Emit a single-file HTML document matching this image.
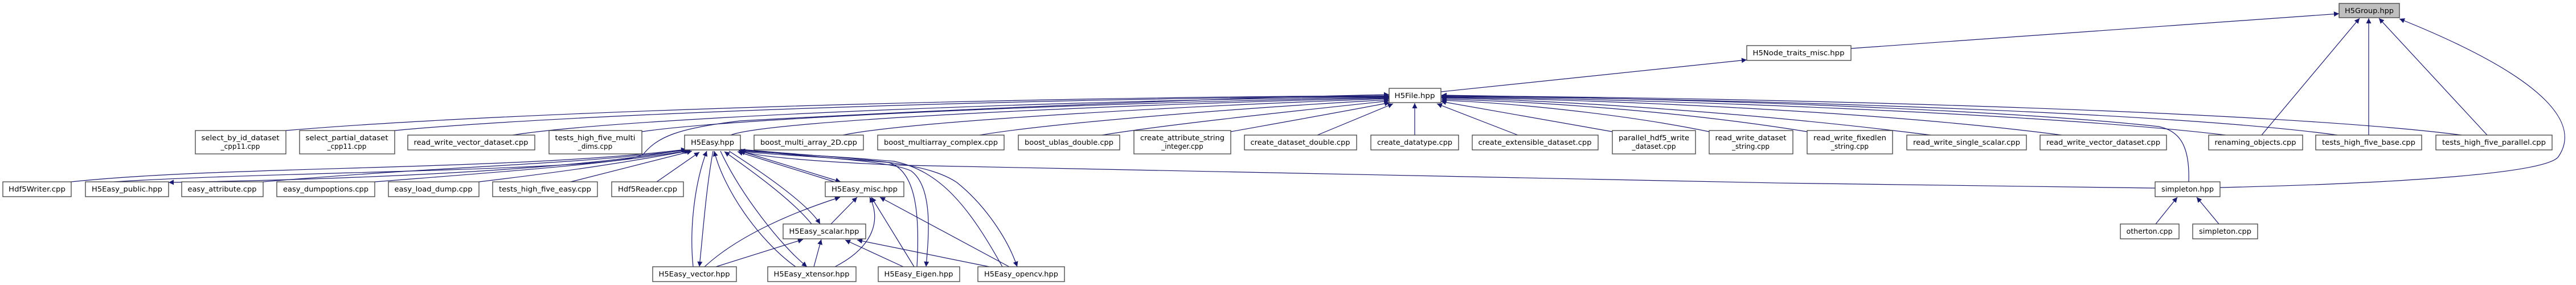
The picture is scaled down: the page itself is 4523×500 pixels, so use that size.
<!DOCTYPE html>
<html><head><meta charset="utf-8"><style>
html,body{margin:0;padding:0;background:#fff;}
svg{display:block;}
text{font-family:"DejaVu Sans","Liberation Sans",sans-serif;font-size:12px;fill:#000;}
.n{fill:#fff;stroke:#404040;stroke-width:1.3;}
.e{fill:none;stroke:#191970;stroke-width:1.2;marker-end:url(#a);}
</style></head><body>
<svg width="4523" height="500" viewBox="0 0 4523 500" xmlns="http://www.w3.org/2000/svg">
<defs><marker id="a" viewBox="0 0 10 10" refX="10" refY="5" markerWidth="11" markerHeight="9" markerUnits="userSpaceOnUse" orient="auto"><path d="M0,0L10,5L0,10z" fill="#191970"/></marker></defs>
<g>
<!-- H5File edges -->
<path class="e" d="M502,229 C900,195 1800,170 2439,168"/>
<path class="e" d="M693,229 C1000,200 1800,172 2439,169"/>
<path class="e" d="M900,237 C1100,205 1900,175 2439,170"/>
<path class="e" d="M1127,231 C1300,205 2000,178 2439,171"/>
<path class="e" d="M1283,237 C1350,210 2000,182 2439,172"/>
<path class="e" d="M1480,237 C1600,212 2100,185 2439,173"/>
<path class="e" d="M1720,237 C1850,215 2200,188 2439,175"/>
<path class="e" d="M1935,237 C2050,218 2300,192 2439,177"/>
<path class="e" d="M2161,231 C2250,215 2380,192 2440,180"/>
<path class="e" d="M2313,237 L2446,182"/>
<path class="e" d="M2484,237 L2484,181"/>
<path class="e" d="M2665,237 L2523,182"/>
<path class="e" d="M2831,231 L2530,178"/>
<path class="e" d="M3001,231 C2850,200 2650,180 2531,176"/>
<path class="e" d="M3173,231 C2950,195 2700,178 2531,174"/>
<path class="e" d="M3390,237 C3100,200 2750,176 2531,172"/>
<path class="e" d="M3620,237 C3300,195 2800,174 2531,171"/>
<path class="e" d="M3908,237 C3600,200 2900,173 2531,170"/>
<path class="e" d="M4104,237 C3800,195 3000,172 2531,169"/>
<path class="e" d="M4322,237 C4000,195 3100,171 2531,168"/>
<path class="e" d="M3843,319 C3845,260 3830,230 3790,222 C3500,190 2900,172 2531,167"/>
<path class="e" d="M200,319 C500,300 1100,300 1130,270 C1155,240 1190,225 1300,212 C1700,190 2200,170 2439,166"/>
<!-- H5Easy edges -->
<path class="e" d="M125,319 C400,290 900,300 1205,262"/>
<path class="e" d="M462,319 C800,290 1000,290 1207,263"/>
<path class="e" d="M658,319 C900,300 1050,290 1210,264"/>
<path class="e" d="M841,319 C1000,300 1100,285 1212,264"/>
<path class="e" d="M1002,319 L1215,265"/>
<path class="e" d="M1153,319 L1228,267"/>
<path class="e" d="M1205,262 C1000,300 600,315 296,320"/>
<path class="e" d="M3784,330 C3000,322 2000,300 1590,290 C1450,285 1320,275 1300,264"/>
<path class="e" d="M1297,264 L1476,319"/>
<path class="e" d="M1465,319 L1295,266"/>
<path class="e" d="M1280,265 C1350,310 1420,360 1440,393"/>
<path class="e" d="M1425,393 C1390,350 1320,300 1272,266"/>
<path class="e" d="M1217,468 C1210,400 1220,320 1241,265"/>
<path class="e" d="M1252,265 C1240,330 1235,400 1228,468"/>
<path class="e" d="M1397,468 C1330,420 1270,330 1254,265"/>
<path class="e" d="M1265,265 C1300,340 1370,430 1417,468"/>
<path class="e" d="M1610,468 C1615,380 1610,300 1560,285 C1450,275 1320,270 1297,264"/>
<path class="e" d="M1299,262 C1400,275 1560,280 1600,300 C1640,330 1630,420 1626,468"/>
<path class="e" d="M1760,468 C1700,360 1650,300 1570,283 C1450,272 1320,268 1299,263"/>
<path class="e" d="M1300,262 C1500,280 1620,280 1680,320 C1730,360 1770,420 1786,468"/>
<path class="e" d="M1459,393 L1505,346"/>
<path class="e" d="M1237,468 C1300,410 1400,370 1475,346"/>
<path class="e" d="M1257,468 L1410,420"/>
<path class="e" d="M1429,468 L1442,420"/>
<path class="e" d="M1466,468 C1540,430 1545,380 1527,346"/>
<path class="e" d="M1586,468 L1484,421"/>
<path class="e" d="M1605,468 L1530,346"/>
<path class="e" d="M1737,468 L1505,421"/>
<path class="e" d="M1772,468 L1545,346"/>
<!-- top -->
<path class="e" d="M2530,161 L3067,105"/>
<path class="e" d="M3250,85 L4107,24"/>
<path class="e" d="M3971,237 L4143,32"/>
<path class="e" d="M4159,237 L4159,32"/>
<path class="e" d="M4367,237 L4177,32"/>
<path class="e" d="M3898,329 C4200,322 4470,305 4492,275 C4530,220 4480,140 4213,33"/>
<path class="e" d="M3785,393 L3823,346"/>
<path class="e" d="M3896,393 L3857,346"/>
</g>
<g>
<rect x="4107" y="6" width="106" height="25" style="fill:#bfbfbf;stroke:#404040;stroke-width:1.3"/><text x="4160" y="23" text-anchor="middle" textLength="86" lengthAdjust="spacingAndGlyphs">H5Group.hpp</text>
<rect class="n" x="3067" y="80" width="183" height="26"/><text x="3158" y="97" text-anchor="middle" textLength="161" lengthAdjust="spacingAndGlyphs">H5Node_traits_misc.hpp</text>
<rect class="n" x="2439" y="155" width="91" height="25"/><text x="2484" y="172" text-anchor="middle" textLength="71" lengthAdjust="spacingAndGlyphs">H5File.hpp</text>

<rect class="n" x="343" y="229" width="159" height="41"/><text x="422" y="246" text-anchor="middle" textLength="137" lengthAdjust="spacingAndGlyphs">select_by_id_dataset</text><text x="422" y="261" text-anchor="middle">_cpp11.cpp</text>
<rect class="n" x="526" y="229" width="167" height="41"/><text x="609" y="246" text-anchor="middle" textLength="145" lengthAdjust="spacingAndGlyphs">select_partial_dataset</text><text x="609" y="261" text-anchor="middle">_cpp11.cpp</text>
<rect class="n" x="716" y="237" width="223" height="26"/><text x="827" y="254" text-anchor="middle" textLength="201" lengthAdjust="spacingAndGlyphs">read_write_vector_dataset.cpp</text>
<rect class="n" x="964" y="229" width="163" height="41"/><text x="1045" y="246" text-anchor="middle" textLength="141" lengthAdjust="spacingAndGlyphs">tests_high_five_multi</text><text x="1045" y="261" text-anchor="middle">_dims.cpp</text>
<rect class="n" x="1202" y="237" width="98" height="26"/><text x="1251" y="254" text-anchor="middle" textLength="76" lengthAdjust="spacingAndGlyphs">H5Easy.hpp</text>
<rect class="n" x="1324" y="237" width="192" height="26"/><text x="1420" y="254" text-anchor="middle" textLength="170" lengthAdjust="spacingAndGlyphs">boost_multi_array_2D.cpp</text>
<rect class="n" x="1541" y="237" width="222" height="26"/><text x="1652" y="254" text-anchor="middle" textLength="200" lengthAdjust="spacingAndGlyphs">boost_multiarray_complex.cpp</text>
<rect class="n" x="1788" y="237" width="178" height="26"/><text x="1877" y="254" text-anchor="middle" textLength="156" lengthAdjust="spacingAndGlyphs">boost_ublas_double.cpp</text>
<rect class="n" x="1991" y="229" width="170" height="41"/><text x="2076" y="246" text-anchor="middle" textLength="148" lengthAdjust="spacingAndGlyphs">create_attribute_string</text><text x="2076" y="261" text-anchor="middle">_integer.cpp</text>
<rect class="n" x="2185" y="237" width="197" height="26"/><text x="2283" y="254" text-anchor="middle" textLength="175" lengthAdjust="spacingAndGlyphs">create_dataset_double.cpp</text>
<rect class="n" x="2407" y="237" width="154" height="26"/><text x="2484" y="254" text-anchor="middle" textLength="132" lengthAdjust="spacingAndGlyphs">create_datatype.cpp</text>
<rect class="n" x="2585" y="237" width="221" height="26"/><text x="2695" y="254" text-anchor="middle" textLength="199" lengthAdjust="spacingAndGlyphs">create_extensible_dataset.cpp</text>
<rect class="n" x="2831" y="229" width="146" height="41"/><text x="2904" y="246" text-anchor="middle" textLength="124" lengthAdjust="spacingAndGlyphs">parallel_hdf5_write</text><text x="2904" y="261" text-anchor="middle">_dataset.cpp</text>
<rect class="n" x="3001" y="229" width="147" height="41"/><text x="3074" y="246" text-anchor="middle" textLength="125" lengthAdjust="spacingAndGlyphs">read_write_dataset</text><text x="3074" y="261" text-anchor="middle">_string.cpp</text>
<rect class="n" x="3173" y="229" width="150" height="41"/><text x="3248" y="246" text-anchor="middle" textLength="128" lengthAdjust="spacingAndGlyphs">read_write_fixedlen</text><text x="3248" y="261" text-anchor="middle">_string.cpp</text>
<rect class="n" x="3348" y="237" width="210" height="26"/><text x="3453" y="254" text-anchor="middle" textLength="188" lengthAdjust="spacingAndGlyphs">read_write_single_scalar.cpp</text>
<rect class="n" x="3582" y="237" width="222" height="26"/><text x="3693" y="254" text-anchor="middle" textLength="200" lengthAdjust="spacingAndGlyphs">read_write_vector_dataset.cpp</text>
<rect class="n" x="3878" y="237" width="165" height="26"/><text x="3960" y="254" text-anchor="middle" textLength="143" lengthAdjust="spacingAndGlyphs">renaming_objects.cpp</text>
<rect class="n" x="4066" y="237" width="186" height="26"/><text x="4159" y="254" text-anchor="middle" textLength="164" lengthAdjust="spacingAndGlyphs">tests_high_five_base.cpp</text>
<rect class="n" x="4277" y="237" width="204" height="26"/><text x="4379" y="254" text-anchor="middle" textLength="182" lengthAdjust="spacingAndGlyphs">tests_high_five_parallel.cpp</text>

<rect class="n" x="5" y="319" width="120" height="26"/><text x="65" y="336" text-anchor="middle" textLength="100" lengthAdjust="spacingAndGlyphs">Hdf5Writer.cpp</text>
<rect class="n" x="150" y="319" width="146" height="26"/><text x="223" y="336" text-anchor="middle" textLength="124" lengthAdjust="spacingAndGlyphs">H5Easy_public.hpp</text>
<rect class="n" x="319" y="319" width="143" height="26"/><text x="390" y="336" text-anchor="middle" textLength="121" lengthAdjust="spacingAndGlyphs">easy_attribute.cpp</text>
<rect class="n" x="486" y="319" width="172" height="26"/><text x="572" y="336" text-anchor="middle" textLength="150" lengthAdjust="spacingAndGlyphs">easy_dumpoptions.cpp</text>
<rect class="n" x="682" y="319" width="159" height="26"/><text x="761" y="336" text-anchor="middle" textLength="137" lengthAdjust="spacingAndGlyphs">easy_load_dump.cpp</text>
<rect class="n" x="865" y="319" width="184" height="26"/><text x="957" y="336" text-anchor="middle" textLength="162" lengthAdjust="spacingAndGlyphs">tests_high_five_easy.cpp</text>
<rect class="n" x="1074" y="319" width="126" height="26"/><text x="1137" y="336" text-anchor="middle" textLength="104" lengthAdjust="spacingAndGlyphs">Hdf5Reader.cpp</text>
<rect class="n" x="1449" y="319" width="138" height="26"/><text x="1518" y="336" text-anchor="middle" textLength="116" lengthAdjust="spacingAndGlyphs">H5Easy_misc.hpp</text>
<rect class="n" x="3784" y="319" width="114" height="26"/><text x="3841" y="336" text-anchor="middle" textLength="92" lengthAdjust="spacingAndGlyphs">simpleton.hpp</text>

<rect class="n" x="1375" y="393" width="145" height="26"/><text x="1447" y="410" text-anchor="middle" textLength="123" lengthAdjust="spacingAndGlyphs">H5Easy_scalar.hpp</text>
<rect class="n" x="3723" y="393" width="103" height="26"/><text x="3774" y="410" text-anchor="middle" textLength="81" lengthAdjust="spacingAndGlyphs">otherton.cpp</text>
<rect class="n" x="3850" y="393" width="114" height="26"/><text x="3907" y="410" text-anchor="middle" textLength="92" lengthAdjust="spacingAndGlyphs">simpleton.cpp</text>

<rect class="n" x="1146" y="468" width="147" height="26"/><text x="1219" y="485" text-anchor="middle" textLength="125" lengthAdjust="spacingAndGlyphs">H5Easy_vector.hpp</text>
<rect class="n" x="1348" y="468" width="155" height="26"/><text x="1425" y="485" text-anchor="middle" textLength="133" lengthAdjust="spacingAndGlyphs">H5Easy_xtensor.hpp</text>
<rect class="n" x="1542" y="468" width="143" height="26"/><text x="1613" y="485" text-anchor="middle" textLength="121" lengthAdjust="spacingAndGlyphs">H5Easy_Eigen.hpp</text>
<rect class="n" x="1717" y="468" width="152" height="26"/><text x="1793" y="485" text-anchor="middle" textLength="130" lengthAdjust="spacingAndGlyphs">H5Easy_opencv.hpp</text>
</g>
</svg>
</body></html>
